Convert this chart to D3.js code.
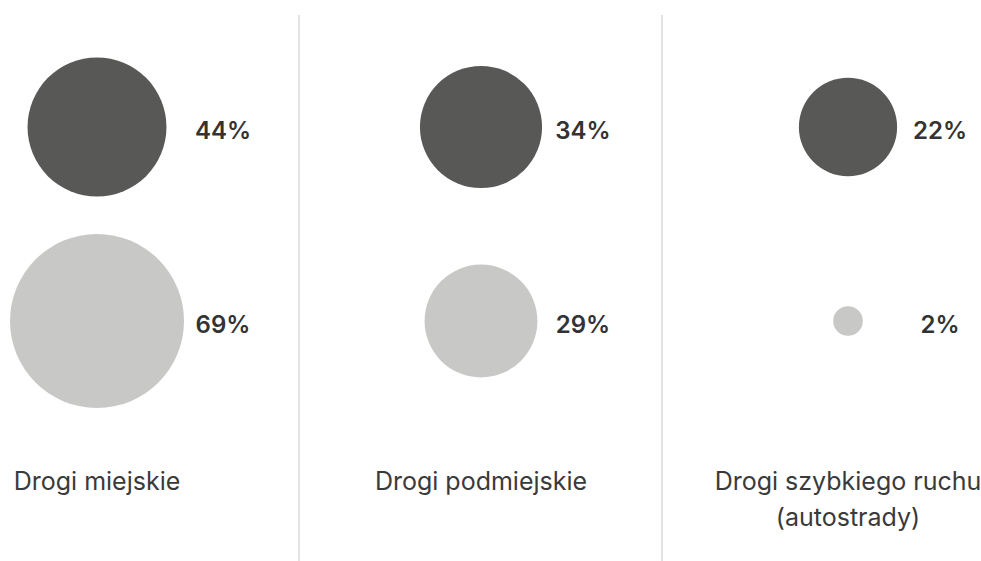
<!DOCTYPE html>
<html>
<head>
<meta charset="utf-8">
<script src="https://cdn.jsdelivr.net/npm/d3@7"></script>
<style>
  body { margin: 0; background: #fff; }
  svg { display: block; font-family: Inter, 'Noto Sans', sans-serif; }
</style>
</head>
<body>
<svg id="chart" width="981" height="561"></svg>
<script>
const categories = ['Drogi miejskie', 'Drogi podmiejskie', 'Drogi szybkiego ruchu (autostrady)']
const labelLines = [['Drogi miejskie'], ['Drogi podmiejskie'], ['Drogi szybkiego ruchu', '(autostrady)']]
const seriesA = [44, 34, 22]
const seriesB = [69, 29, 2]
const colors = ['#585856', '#c8c8c6']

const svg = d3.select('#chart')

// panel positions
const circleX = [97, 481, 848]
const labelX = [223, 583, 940]
const rowY = d3.scalePoint().domain(['a', 'b']).range([127, 321])
const r = d3.scaleSqrt().domain([0, 69]).range([0, 87])

const rows = [
  { key: 'a', values: seriesA, color: colors[0] },
  { key: 'b', values: seriesB, color: colors[1] }
]

// dividers
svg.selectAll('line.div').data([299, 662]).join('line')
  .attr('x1', d => d).attr('x2', d => d)
  .attr('y1', 15).attr('y2', 561)
  .attr('stroke', '#d9d9d9').attr('stroke-width', 1.5)

rows.forEach(row => {
  const g = svg.append('g')
  g.selectAll('circle').data(row.values).join('circle')
    .attr('cx', (d, i) => circleX[i])
    .attr('cy', rowY(row.key))
    .attr('r', d => r(d))
    .attr('fill', row.color)
  g.selectAll('text').data(row.values).join('text')
    .attr('x', (d, i) => labelX[i])
    .attr('y', rowY(row.key) + 4)
    .attr('dy', '0.35em')
    .attr('text-anchor', 'middle')
    .attr('font-size', 24)
    .attr('font-weight', 600)
    .attr('fill', '#333')
    .text(d => d + '%')
})

const cat = svg.append('g')
labelLines.forEach((lines, i) => {
  const t = cat.append('text')
    .attr('x', circleX[i])
    .attr('y', 481)
    .attr('text-anchor', 'middle')
    .attr('font-size', 25)
    .attr('fill', '#3a3a3a')
  lines.forEach((l, j) => {
    t.append('tspan').attr('x', circleX[i]).attr('dy', j === 0 ? '0.35em' : '1.44em').text(l)
  })
})
</script>
</body>
</html>
